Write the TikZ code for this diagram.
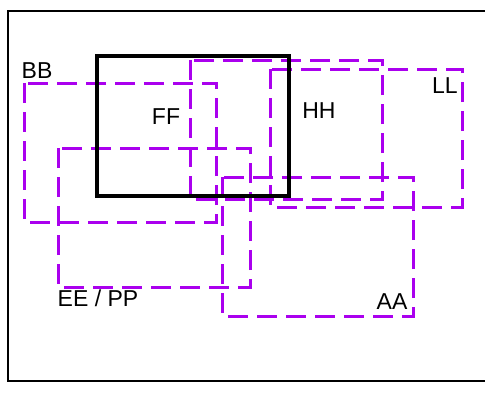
\documentclass[tikz,border=0pt]{standalone}
\usepackage{fontspec}
\setmainfont{Liberation Sans}
\definecolor{lila}{RGB}{170,0,238}
\begin{document}
\begin{tikzpicture}[x=1pt,y=-1pt,
	zone/.style={lila, line width=3pt, dash pattern=on 20pt off 9pt},
	lbl/.style={font=\fontsize{23}{26}\selectfont, inner sep=0pt}]
		\useasboundingbox (0,0) rectangle (485,394);
		\draw [line width=2pt] (8,11) rectangle (492,381);
		% Zonen
		\draw [zone] (24,83) rectangle (216,222);
		\draw [zone] (190,60) rectangle (382,199);
		\draw [zone] (270,69) rectangle (462,207);
		\draw [zone] (58,148) rectangle (250,287);
		\draw [zone] (222,177) rectangle (413,316);
		\draw [line width=4pt] (97,56) rectangle (289,196);
		% Beschriftung
		\node [lbl] (bb) at (37,71) {BB};
		\node [lbl] (ff) at (166,117) {FF};
		\node [lbl] (hh) at (319,111) {HH};
		\node [lbl] (ll) at (445,86) {LL};
		\node [lbl] (ee) at (98,298) {EE / PP};
		\node [lbl] (aa) at (392,302) {AA};
\end{tikzpicture}
\end{document}
